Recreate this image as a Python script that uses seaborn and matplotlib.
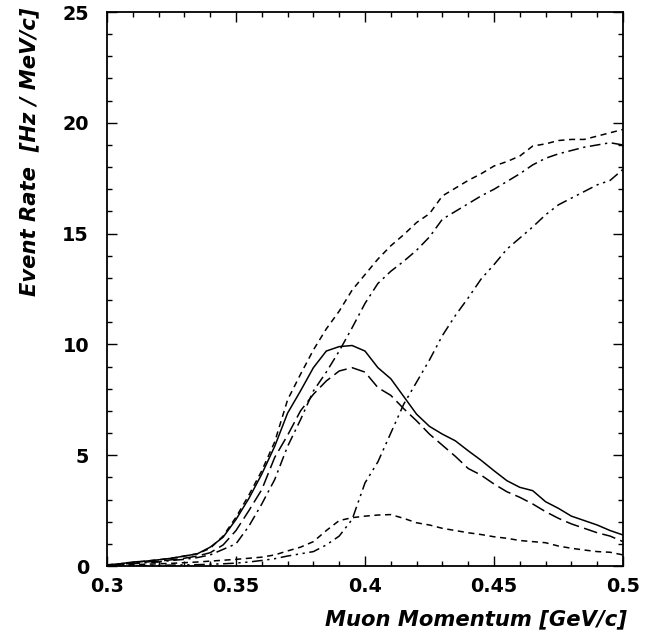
import numpy as np
import pandas as pd
import matplotlib
matplotlib.use("Agg")
import matplotlib.pyplot as plt
import seaborn as sns
from matplotlib.ticker import MultipleLocator

# Muon momentum grid [GeV/c]
momentum = [0.300, 0.305, 0.310, 0.315, 0.320, 0.325, 0.330, 0.335, 0.340, 0.345,
            0.350, 0.355, 0.360, 0.365, 0.370, 0.375, 0.380, 0.385, 0.390, 0.395,
            0.400, 0.405, 0.410, 0.415, 0.420, 0.425, 0.430, 0.435, 0.440, 0.445,
            0.450, 0.455, 0.460, 0.465, 0.470, 0.475, 0.480, 0.485, 0.490, 0.495,
            0.500]

solid = [0.05, 0.10, 0.18, 0.22, 0.28, 0.35, 0.45, 0.55, 0.85, 1.30,
         2.10, 3.05, 4.15, 5.40, 6.90, 7.90, 8.95, 9.70, 9.90, 9.95,
         9.70, 8.95, 8.45, 7.65, 6.85, 6.30, 5.95, 5.65, 5.20, 4.77,
         4.30, 3.85, 3.55, 3.40, 2.90, 2.60, 2.25, 2.05, 1.85, 1.60,
         1.40]

long_dash = [0.02, 0.08, 0.12, 0.18, 0.22, 0.28, 0.35, 0.45, 0.60, 0.95,
             1.60, 2.50, 3.45, 4.90, 5.90, 7.00, 7.75, 8.35, 8.80, 8.95,
             8.75, 8.05, 7.70, 7.10, 6.55, 5.95, 5.45, 4.95, 4.40, 4.10,
             3.70, 3.35, 3.10, 2.80, 2.45, 2.15, 1.90, 1.70, 1.50, 1.35,
             1.10]

short_dash_high = [0.05, 0.10, 0.15, 0.22, 0.28, 0.35, 0.45, 0.55, 0.80, 1.35,
                   2.20, 3.20, 4.30, 5.60, 7.50, 8.65, 9.75, 10.70, 11.50, 12.45,
                   13.15, 13.85, 14.45, 14.95, 15.50, 15.90, 16.70, 17.05, 17.40, 17.70,
                   18.05, 18.25, 18.50, 18.95, 19.05, 19.20, 19.25, 19.25, 19.40, 19.55,
                   19.70]

dash_dot_high = [0.02, 0.06, 0.10, 0.15, 0.18, 0.25, 0.30, 0.38, 0.50, 0.75,
                 1.00, 1.80, 2.80, 3.90, 5.40, 6.60, 7.90, 8.75, 9.70, 10.75,
                 11.85, 12.75, 13.30, 13.75, 14.25, 14.85, 15.65, 16.00, 16.35, 16.70,
                 17.00, 17.35, 17.70, 18.10, 18.40, 18.60, 18.75, 18.90, 19.00, 19.10,
                 19.00]

dash_dot_dot = [0.00, 0.00, 0.01, 0.02, 0.03, 0.04, 0.05, 0.06, 0.08, 0.10,
                0.13, 0.18, 0.25, 0.33, 0.45, 0.55, 0.65, 0.95, 1.35, 2.10,
                3.75, 4.70, 6.00, 7.30, 8.30, 9.30, 10.40, 11.30, 12.10, 12.95,
                13.60, 14.30, 14.80, 15.30, 15.85, 16.30, 16.60, 16.90, 17.20, 17.40,
                17.90]

short_dash_low = [0.02, 0.04, 0.06, 0.08, 0.10, 0.12, 0.15, 0.18, 0.22, 0.26,
                  0.30, 0.35, 0.40, 0.50, 0.68, 0.85, 1.10, 1.60, 2.05, 2.18,
                  2.25, 2.30, 2.32, 2.15, 1.95, 1.85, 1.70, 1.60, 1.50, 1.42,
                  1.32, 1.25, 1.15, 1.10, 1.05, 0.90, 0.80, 0.72, 0.65, 0.62,
                  0.50]

series_names = ["solid", "long_dash", "short_dash_high", "dash_dot_high",
                "dash_dot_dot", "short_dash_low"]
series_values = [solid, long_dash, short_dash_high, dash_dot_high,
                 dash_dot_dot, short_dash_low]

x_ticks = [0.3, 0.35, 0.4, 0.45, 0.5]
x_tick_labels = ["0.3", "0.35", "0.4", "0.45", "0.5"]
y_ticks = [0, 5, 10, 15, 20, 25]
y_tick_labels = ["0", "5", "10", "15", "20", "25"]

frames = []
for name, vals in zip(series_names, series_values):
    frames.append(pd.DataFrame({"momentum": momentum, "rate": vals, "curve": name}))
df = pd.concat(frames, ignore_index=True)

sns.set_theme(style="ticks")
plt.rcParams["font.family"] = ["DejaVu Sans"]
plt.rcParams["text.color"] = "black"
plt.rcParams["axes.labelcolor"] = "black"
plt.rcParams["xtick.color"] = "black"
plt.rcParams["ytick.color"] = "black"

dash_styles = {
    "solid": "",
    "long_dash": (9, 3.5),
    "short_dash_high": (4, 3),
    "dash_dot_high": (7, 3, 1.5, 3),
    "dash_dot_dot": (7, 3, 1.5, 3, 1.5, 3),
    "short_dash_low": (4, 3),
}

fig = plt.figure(figsize=(6.61, 6.42), dpi=100)
ax = fig.add_axes([107 / 661, 76 / 642, 516 / 661, 554 / 642])

sns.lineplot(data=df, x="momentum", y="rate", hue="curve", style="curve",
             palette={n: "black" for n in series_names}, dashes=dash_styles,
             linewidth=1.1, legend=False, ax=ax, sort=False)

ax.set_xlim(0.3, 0.5)
ax.set_ylim(0, 25)
ax.set_xticks(x_ticks)
ax.set_xticklabels(x_tick_labels)
ax.set_yticks(y_ticks)
ax.set_yticklabels(y_tick_labels)
ax.xaxis.set_minor_locator(MultipleLocator(0.01))
ax.yaxis.set_minor_locator(MultipleLocator(1))

tick_size = 13.8
lab_size = 15.2
ax.tick_params(which="both", direction="in", top=True, right=True, width=1.0,
               color="black", labelcolor="black")
ax.tick_params(which="major", length=7.5)
ax.tick_params(which="minor", length=3.8)
ax.tick_params(axis="x", which="major", pad=8, labelsize=tick_size)
ax.tick_params(axis="y", which="major", pad=13, labelsize=tick_size)
for lab in ax.get_xticklabels() + ax.get_yticklabels():
    lab.set_fontweight("bold")

for sp in ax.spines.values():
    sp.set_linewidth(1.3)
    sp.set_color("black")

ax.set_xlabel("Muon Momentum [GeV/c]", fontsize=lab_size, fontweight="bold",
              fontstyle="italic", ha="right", va="center", color="black")
ax.xaxis.set_label_coords(1.008, -0.097)
ax.set_ylabel("Event Rate  [Hz / MeV/c]", fontsize=lab_size, fontweight="bold",
              fontstyle="italic", ha="right", va="center", color="black")
ax.yaxis.set_label_coords(-0.15, 1.008)

ax.grid(False)
fig.savefig("out.png", dpi=100, facecolor="white")
